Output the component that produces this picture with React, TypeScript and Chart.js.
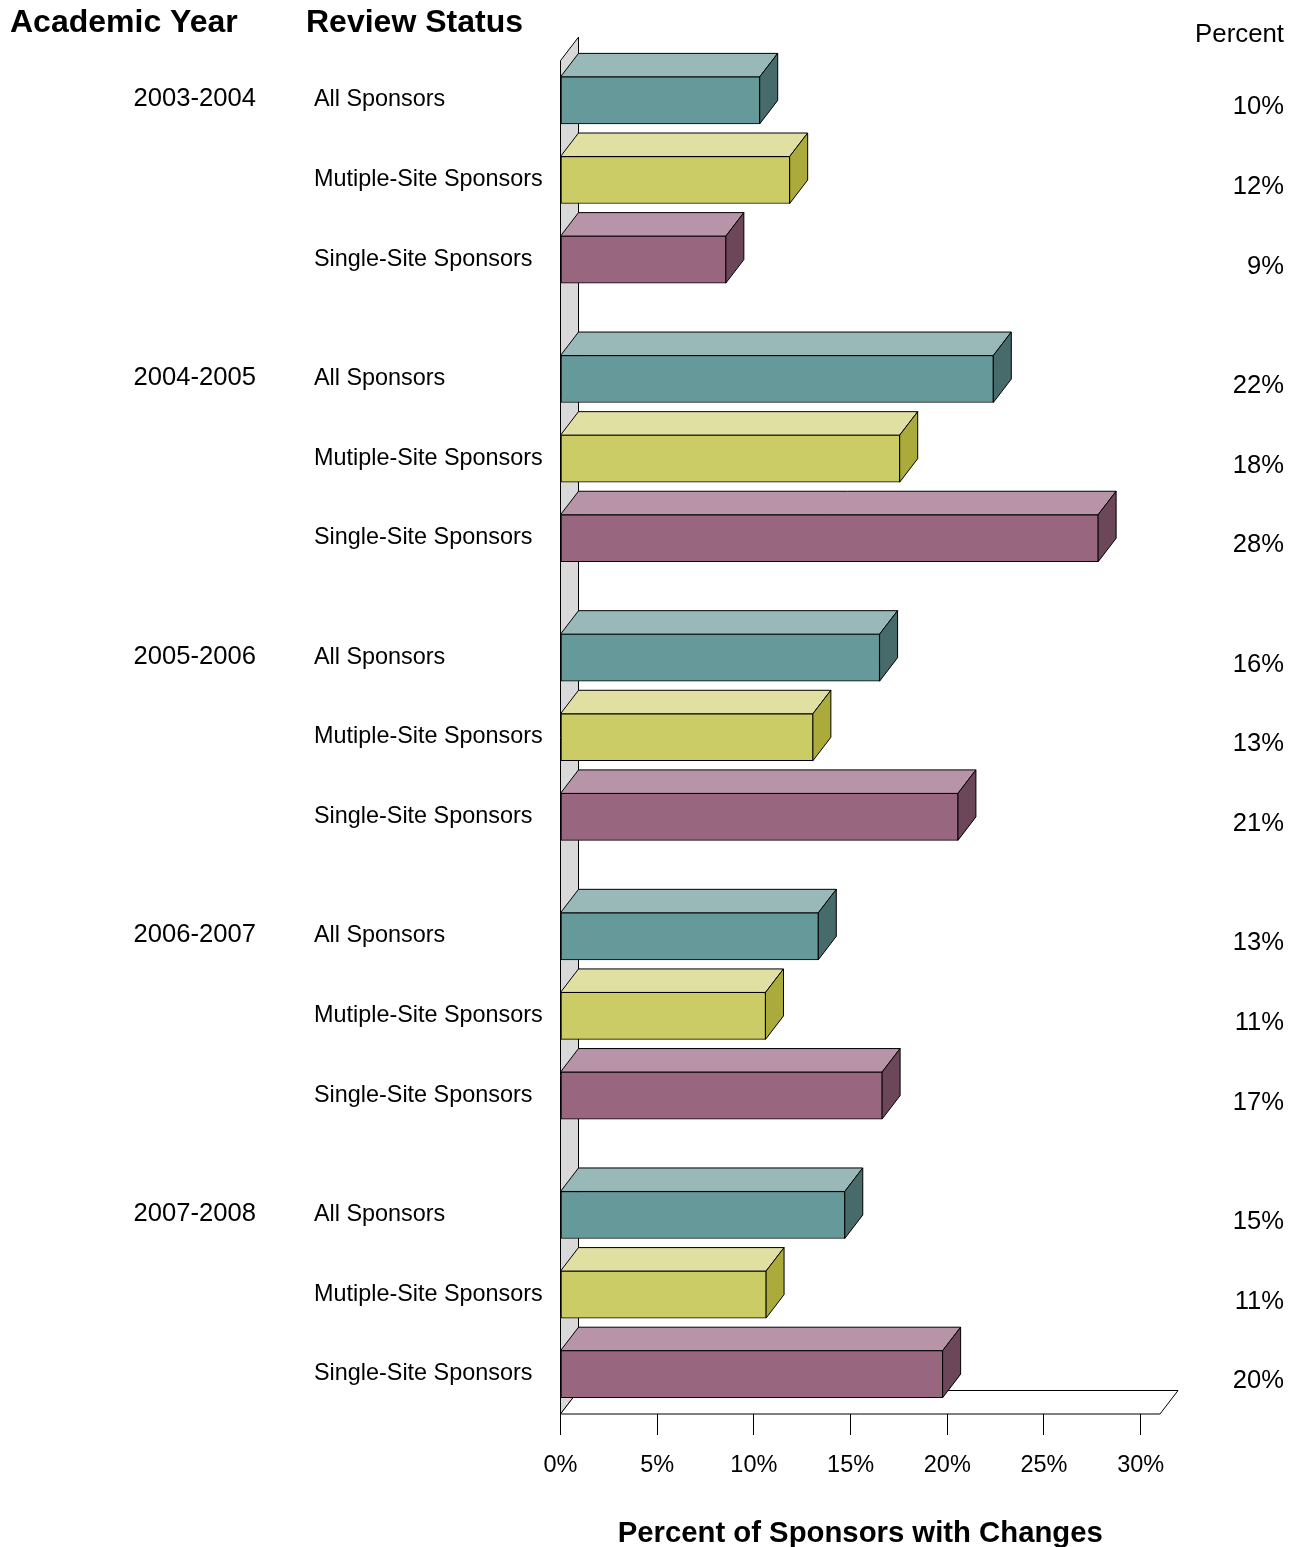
import React, { useEffect, useRef } from "react";
import { Chart, registerables } from "chart.js";

Chart.register(...registerables);

const years = ["2003-2004", "2004-2005", "2005-2006", "2006-2007", "2007-2008"];
const statuses = ["All Sponsors", "Mutiple-Site Sponsors", "Single-Site Sponsors"];
const allSponsors = [10.3, 22.38, 16.5, 13.33, 14.7];
const multiSite = [11.85, 17.54, 13.05, 10.6, 10.63];
const singleSite = [8.55, 27.8, 20.55, 16.63, 19.76];
const percentLabels = [
  ["10%", "12%", "9%"],
  ["22%", "18%", "28%"],
  ["16%", "13%", "21%"],
  ["13%", "11%", "17%"],
  ["15%", "11%", "20%"],
];

const FONT = "'Liberation Sans', Arial, sans-serif";
const GROUP_STEP = 3.5;
const slot = (g: number, s: number) => g * GROUP_STEP + s;
const DX = 18;
const DY = 23.5;

const faces = [
  { front: "#669999", top: "#99b8b8", side: "#476b6b" },
  { front: "#cccc66", top: "#e0e0a3", side: "#abab3b" },
  { front: "#996680", top: "#b894a8", side: "#6b4759" },
];

const poly = (ctx: CanvasRenderingContext2D, pts: number[][], fill: string) => {
  ctx.beginPath();
  pts.forEach(([x, y], i) => (i ? ctx.lineTo(x, y) : ctx.moveTo(x, y)));
  ctx.closePath();
  ctx.fillStyle = fill;
  ctx.fill();
  ctx.strokeStyle = "#000";
  ctx.lineWidth = 1;
  ctx.stroke();
};

const box3d = {
  id: "box3d",
  beforeDatasetsDraw(chart: any) {
    const { ctx, chartArea: a } = chart;
    const wallTop = chart.scales.y.getPixelForValue(-0.5);
    ctx.save();
    poly(ctx, [[a.left, wallTop], [a.left + DX, wallTop - DY], [a.left + DX, a.bottom - DY], [a.left, a.bottom]], "#d9d9d9");
    poly(ctx, [[a.left, a.bottom], [a.right, a.bottom], [a.right + DX, a.bottom - DY], [a.left + DX, a.bottom - DY]], "#ffffff");
    chart.data.datasets.forEach((_: any, di: number) => {
      chart.getDatasetMeta(di).data.forEach((bar: any) => {
        const { x, y, height } = bar.getProps(["x", "y", "height"], true);
        const l = a.left;
        const t = y - height / 2;
        const b = y + height / 2;
        poly(ctx, [[l, t], [x, t], [x + DX, t - DY], [l + DX, t - DY]], faces[di].top);
        poly(ctx, [[x, t], [x + DX, t - DY], [x + DX, b - DY], [x, b]], faces[di].side);
      });
    });
    ctx.restore();
  },
  afterDraw(chart: any) {
    const { ctx } = chart;
    ctx.save();
    ctx.fillStyle = "#000";
    ctx.textBaseline = "middle";
    ctx.textAlign = "left";
    ctx.font = `bold 32px ${FONT}`;
    ctx.fillText("Academic Year", 10, 23);
    ctx.fillText("Review Status", 306, 23);
    ctx.textAlign = "right";
    ctx.font = `25.8px ${FONT}`;
    ctx.fillText("Percent", 1284, 34.5);
    ctx.restore();
  },
};

const yBase = { min: -0.44, max: 16.5, reverse: true, offset: false, grid: { display: false }, border: { display: false } };

const setTicks = (values: number[]) => (scale: any) => {
  scale.ticks = values.map((value) => ({ value }));
};
const setWidth = (w: number) => (scale: any) => {
  scale.width = w;
};

const yearSlots = years.map((_, g) => slot(g, 0));
const statusSlots = years.flatMap((_, g) => statuses.map((__, s) => slot(g, s)));

export default function App() {
  const ref = useRef<HTMLCanvasElement>(null);
  useEffect(() => {
    document.body.style.margin = "0";
    const series = [allSponsors, multiSite, singleSite];
    const chart = new Chart(ref.current!, {
      type: "bar",
      plugins: [box3d],
      data: {
        datasets: statuses.map((label, s) => ({
          label,
          data: series[s].map((x, g) => ({ x, y: slot(g, s) })),
          backgroundColor: faces[s].front,
          borderColor: "#000",
          borderWidth: 1,
          borderSkipped: false,
          barThickness: 47,
          clip: false,
        })),
      } as any,
      options: {
        indexAxis: "y",
        animation: false,
        responsive: false,
        maintainAspectRatio: false,
        layout: { autoPadding: false, padding: { top: 61, right: 11, bottom: 0, left: 0 } },
        plugins: { legend: { display: false }, tooltip: { enabled: false } },
        datasets: { bar: { grouped: false } },
        scales: {
          x: {
            type: "linear",
            position: "bottom",
            min: 0,
            max: 31,
            afterFit: (s: any) => { s.height = 133; },
            afterBuildTicks: setTicks([0, 5, 10, 15, 20, 25, 30]),
            grid: { drawOnChartArea: false, color: "#000", tickLength: 21, lineWidth: 1 },
            border: { display: false },
            ticks: {
              color: "#000",
              padding: 16,
              maxRotation: 0,
              autoSkip: false,
              font: { family: FONT, size: 23.5 },
              callback: (v: any) => `${v}%`,
            },
            title: {
              display: true,
              text: "Percent of Sponsors with Changes",
              color: "#000",
              font: { family: FONT, size: 29.3, weight: "bold", lineHeight: 1 },
              padding: { top: 0, bottom: -2 },
            },
          },
          y: {
            ...yBase,
            type: "linear",
            position: "left",
            weight: 1,
            afterFit: setWidth(246.5),
            afterBuildTicks: setTicks(statusSlots),
            ticks: {
              color: "#000",
              crossAlign: "far",
              padding: 0,
              labelOffset: -0.5,
              autoSkip: false,
              font: { family: FONT, size: 23.4 },
              callback: (v: any) => statuses[Math.round(v % GROUP_STEP)],
            },
          },
          yYear: {
            ...yBase,
            type: "linear",
            position: "left",
            weight: 2,
            afterFit: setWidth(314),
            afterBuildTicks: setTicks(yearSlots),
            ticks: {
              color: "#000",
              crossAlign: "near",
              padding: 50,
              labelOffset: -1.2,
              autoSkip: false,
              font: { family: FONT, size: 25.6 },
              callback: (v: any) => years[Math.round(v / GROUP_STEP)],
            },
          },
          yPercent: {
            ...yBase,
            type: "linear",
            position: "right",
            afterFit: setWidth(124),
            afterBuildTicks: setTicks(statusSlots),
            ticks: {
              color: "#000",
              crossAlign: "far",
              padding: 0,
              labelOffset: 7,
              autoSkip: false,
              font: { family: FONT, size: 25.6 },
              callback: (v: any) => {
                const g = Math.floor(v / GROUP_STEP);
                return percentLabels[g][Math.round(v - g * GROUP_STEP)];
              },
            },
          },
        },
      } as any,
    });
    return () => chart.destroy();
  }, []);
  return <canvas ref={ref} width={1295} height={1547} style={{ display: "block", width: 1295, height: 1547 }} />;
}
